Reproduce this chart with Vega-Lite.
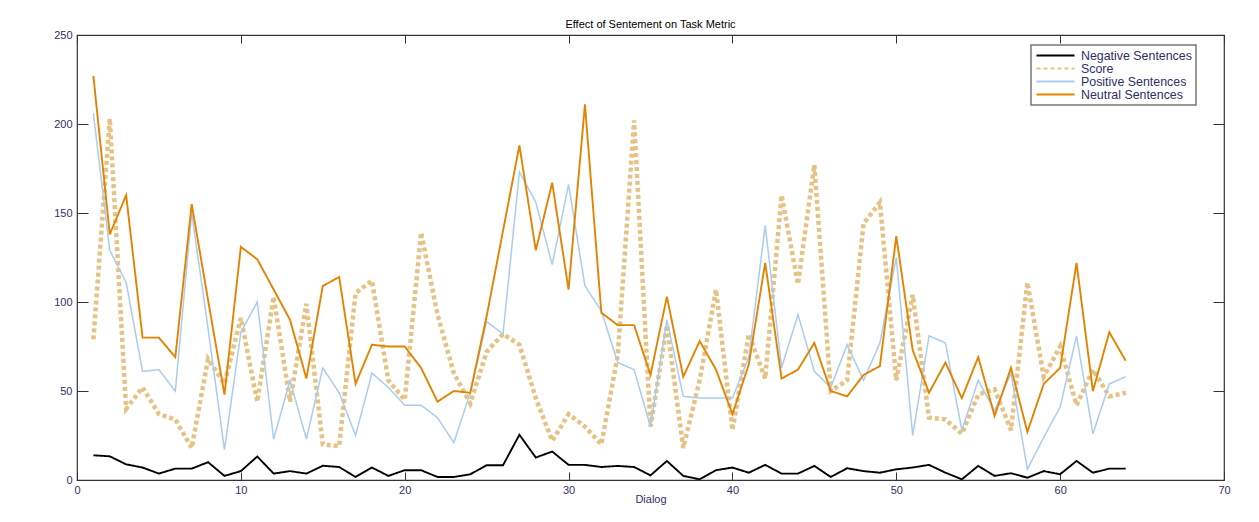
{
  "$schema": "https://vega.github.io/schema/vega-lite/v6.json",
  "width": 1147,
  "height": 445,
  "autosize": {"type": "none"},
  "padding": {"left": 77, "top": 35, "right": 35, "bottom": 42},
  "background": "white",
  "title": {"text": "Effect of Sentement on Task Metric", "fontSize": 11, "fontWeight": "normal", "font": "Liberation Sans", "color": "#000000", "offset": -1},
  "data": {"values": [
    {"Dialog": 1, "Negative Sentences": 13.9, "Score": 79, "Positive Sentences": 206, "Neutral Sentences": 227},
    {"Dialog": 2, "Negative Sentences": 13.3, "Score": 203, "Positive Sentences": 129, "Neutral Sentences": 138},
    {"Dialog": 3, "Negative Sentences": 8.8, "Score": 40, "Positive Sentences": 111, "Neutral Sentences": 160},
    {"Dialog": 4, "Negative Sentences": 7, "Score": 52, "Positive Sentences": 61, "Neutral Sentences": 80},
    {"Dialog": 5, "Negative Sentences": 3.6, "Score": 37, "Positive Sentences": 62, "Neutral Sentences": 80},
    {"Dialog": 6, "Negative Sentences": 6.4, "Score": 34, "Positive Sentences": 50, "Neutral Sentences": 69},
    {"Dialog": 7, "Negative Sentences": 6.4, "Score": 18, "Positive Sentences": 150, "Neutral Sentences": 155},
    {"Dialog": 8, "Negative Sentences": 10, "Score": 68, "Positive Sentences": 85, "Neutral Sentences": 101},
    {"Dialog": 9, "Negative Sentences": 2.3, "Score": 54, "Positive Sentences": 17, "Neutral Sentences": 48},
    {"Dialog": 10, "Negative Sentences": 5, "Score": 91, "Positive Sentences": 83, "Neutral Sentences": 131},
    {"Dialog": 11, "Negative Sentences": 13.2, "Score": 44, "Positive Sentences": 100, "Neutral Sentences": 124},
    {"Dialog": 12, "Negative Sentences": 3.6, "Score": 103, "Positive Sentences": 23, "Neutral Sentences": 107},
    {"Dialog": 13, "Negative Sentences": 5, "Score": 44, "Positive Sentences": 56, "Neutral Sentences": 90},
    {"Dialog": 14, "Negative Sentences": 3.6, "Score": 99, "Positive Sentences": 23, "Neutral Sentences": 57},
    {"Dialog": 15, "Negative Sentences": 8, "Score": 20, "Positive Sentences": 63, "Neutral Sentences": 109},
    {"Dialog": 16, "Negative Sentences": 7.3, "Score": 19, "Positive Sentences": 49, "Neutral Sentences": 114},
    {"Dialog": 17, "Negative Sentences": 1.7, "Score": 105, "Positive Sentences": 25, "Neutral Sentences": 54},
    {"Dialog": 18, "Negative Sentences": 7, "Score": 112, "Positive Sentences": 60, "Neutral Sentences": 76},
    {"Dialog": 19, "Negative Sentences": 2.3, "Score": 56, "Positive Sentences": 52, "Neutral Sentences": 75},
    {"Dialog": 20, "Negative Sentences": 5.5, "Score": 45, "Positive Sentences": 42, "Neutral Sentences": 75},
    {"Dialog": 21, "Negative Sentences": 5.5, "Score": 139, "Positive Sentences": 42, "Neutral Sentences": 63},
    {"Dialog": 22, "Negative Sentences": 1.7, "Score": 93, "Positive Sentences": 35, "Neutral Sentences": 44},
    {"Dialog": 23, "Negative Sentences": 1.7, "Score": 60, "Positive Sentences": 21, "Neutral Sentences": 50},
    {"Dialog": 24, "Negative Sentences": 3.2, "Score": 43, "Positive Sentences": 49, "Neutral Sentences": 49},
    {"Dialog": 25, "Negative Sentences": 8.3, "Score": 72, "Positive Sentences": 89, "Neutral Sentences": 92},
    {"Dialog": 26, "Negative Sentences": 8.3, "Score": 82, "Positive Sentences": 82, "Neutral Sentences": 140},
    {"Dialog": 27, "Negative Sentences": 25.4, "Score": 76, "Positive Sentences": 173, "Neutral Sentences": 188},
    {"Dialog": 28, "Negative Sentences": 12.6, "Score": 46, "Positive Sentences": 156, "Neutral Sentences": 129},
    {"Dialog": 29, "Negative Sentences": 16, "Score": 22, "Positive Sentences": 121, "Neutral Sentences": 167},
    {"Dialog": 30, "Negative Sentences": 8.5, "Score": 37, "Positive Sentences": 166, "Neutral Sentences": 107},
    {"Dialog": 31, "Negative Sentences": 8.5, "Score": 30, "Positive Sentences": 109, "Neutral Sentences": 211},
    {"Dialog": 32, "Negative Sentences": 7.3, "Score": 20, "Positive Sentences": 95, "Neutral Sentences": 94},
    {"Dialog": 33, "Negative Sentences": 7.9, "Score": 70, "Positive Sentences": 66, "Neutral Sentences": 87},
    {"Dialog": 34, "Negative Sentences": 7.3, "Score": 202, "Positive Sentences": 62, "Neutral Sentences": 87},
    {"Dialog": 35, "Negative Sentences": 2.6, "Score": 30, "Positive Sentences": 30, "Neutral Sentences": 59},
    {"Dialog": 36, "Negative Sentences": 10.7, "Score": 87, "Positive Sentences": 90, "Neutral Sentences": 103},
    {"Dialog": 37, "Negative Sentences": 2.3, "Score": 18, "Positive Sentences": 47, "Neutral Sentences": 58},
    {"Dialog": 38, "Negative Sentences": 0.4, "Score": 56, "Positive Sentences": 46, "Neutral Sentences": 78},
    {"Dialog": 39, "Negative Sentences": 5.5, "Score": 107, "Positive Sentences": 46, "Neutral Sentences": 62},
    {"Dialog": 40, "Negative Sentences": 7, "Score": 28, "Positive Sentences": 46, "Neutral Sentences": 37},
    {"Dialog": 41, "Negative Sentences": 4.1, "Score": 82, "Positive Sentences": 69, "Neutral Sentences": 65},
    {"Dialog": 42, "Negative Sentences": 8.5, "Score": 57, "Positive Sentences": 143, "Neutral Sentences": 122},
    {"Dialog": 43, "Negative Sentences": 3.6, "Score": 160, "Positive Sentences": 63, "Neutral Sentences": 57},
    {"Dialog": 44, "Negative Sentences": 3.6, "Score": 110, "Positive Sentences": 93, "Neutral Sentences": 62},
    {"Dialog": 45, "Negative Sentences": 7.9, "Score": 177, "Positive Sentences": 61, "Neutral Sentences": 77},
    {"Dialog": 46, "Negative Sentences": 1.7, "Score": 50, "Positive Sentences": 52, "Neutral Sentences": 50},
    {"Dialog": 47, "Negative Sentences": 6.6, "Score": 56, "Positive Sentences": 76, "Neutral Sentences": 47},
    {"Dialog": 48, "Negative Sentences": 5, "Score": 144, "Positive Sentences": 56, "Neutral Sentences": 59},
    {"Dialog": 49, "Negative Sentences": 4.1, "Score": 156, "Positive Sentences": 77, "Neutral Sentences": 64},
    {"Dialog": 50, "Negative Sentences": 6, "Score": 56, "Positive Sentences": 125, "Neutral Sentences": 137},
    {"Dialog": 51, "Negative Sentences": 7, "Score": 104, "Positive Sentences": 25, "Neutral Sentences": 73},
    {"Dialog": 52, "Negative Sentences": 8.5, "Score": 35, "Positive Sentences": 81, "Neutral Sentences": 49},
    {"Dialog": 53, "Negative Sentences": 4.1, "Score": 34, "Positive Sentences": 77, "Neutral Sentences": 66},
    {"Dialog": 54, "Negative Sentences": 0.4, "Score": 26, "Positive Sentences": 28, "Neutral Sentences": 46},
    {"Dialog": 55, "Negative Sentences": 7.9, "Score": 48, "Positive Sentences": 56, "Neutral Sentences": 69},
    {"Dialog": 56, "Negative Sentences": 2.3, "Score": 51, "Positive Sentences": 39, "Neutral Sentences": 36},
    {"Dialog": 57, "Negative Sentences": 3.8, "Score": 28, "Positive Sentences": 60, "Neutral Sentences": 63},
    {"Dialog": 58, "Negative Sentences": 1.3, "Score": 111, "Positive Sentences": 6, "Neutral Sentences": 27},
    {"Dialog": 59, "Negative Sentences": 5, "Score": 58, "Positive Sentences": 24, "Neutral Sentences": 54},
    {"Dialog": 60, "Negative Sentences": 3.2, "Score": 75, "Positive Sentences": 41, "Neutral Sentences": 63},
    {"Dialog": 61, "Negative Sentences": 10.7, "Score": 42, "Positive Sentences": 81, "Neutral Sentences": 122},
    {"Dialog": 62, "Negative Sentences": 4.1, "Score": 62, "Positive Sentences": 26, "Neutral Sentences": 50},
    {"Dialog": 63, "Negative Sentences": 6.4, "Score": 47, "Positive Sentences": 54, "Neutral Sentences": 83},
    {"Dialog": 64, "Negative Sentences": 6.4, "Score": 49, "Positive Sentences": 58, "Neutral Sentences": 67}
  ]},
  "transform": [
    {"fold": ["Negative Sentences", "Score", "Positive Sentences", "Neutral Sentences"], "as": ["series", "value"]}
  ],
  "layer": [
    {
      "mark": {"type": "line", "clip": true},
      "encoding": {
        "x": {"field": "Dialog", "type": "quantitative",
          "scale": {"domain": [0, 70], "nice": false, "zero": true},
          "axis": {"orient": "bottom", "values": [0, 10, 20, 30, 40, 50, 60, 70], "title": "Dialog", "tickSize": -8, "labelPadding": 12, "titlePadding": -2, "domain": false, "grid": false}},
        "y": {"field": "value", "type": "quantitative",
          "scale": {"domain": [0, 250], "nice": false},
          "axis": {"orient": "left", "values": [0, 50, 100, 150, 200, 250], "title": null, "tickSize": -11, "labelPadding": 16, "domain": false, "grid": false}},
        "color": {"field": "series", "type": "nominal",
          "scale": {"domain": ["Negative Sentences", "Score", "Positive Sentences", "Neutral Sentences"], "range": ["#000000", "#e6c284", "#a9ccf0", "#e38300"]},
          "legend": {"title": null}},
        "strokeDash": {"field": "series", "type": "nominal",
          "scale": {"domain": ["Negative Sentences", "Score", "Positive Sentences", "Neutral Sentences"], "range": [[1, 0], [4, 3], [1, 0], [1, 0]]},
          "legend": {"title": null}},
        "strokeWidth": {
          "condition": [
            {"test": "datum.series === 'Score'", "value": 4.5},
            {"test": "datum.series === 'Positive Sentences'", "value": 1.5}
          ],
          "value": 1.9}
      }
    },
    {
      "mark": {"type": "line", "opacity": 0},
      "encoding": {
        "x": {"field": "Dialog", "type": "quantitative",
          "axis": {"orient": "top", "values": [0, 10, 20, 30, 40, 50, 60, 70], "title": null, "labels": false, "tickSize": -8, "domain": false, "grid": false}},
        "y": {"field": "value", "type": "quantitative",
          "axis": {"orient": "right", "values": [0, 50, 100, 150, 200, 250], "title": null, "labels": false, "tickSize": -11, "domain": false, "grid": false}},
        "detail": {"field": "series", "type": "nominal"}
      }
    }
  ],
  "config": {
    "view": {"stroke": "#333333", "strokeWidth": 1.2, "fill": "white"},
    "axis": {"labelFont": "Liberation Sans", "labelFontSize": 11, "labelColor": "#2f2f66", "tickColor": "#333333", "tickWidth": 1, "titleFont": "Liberation Sans", "titleFontSize": 11, "titleFontWeight": "normal", "titleColor": "#2f2f66", "labelFlush": false},
    "legend": {"orient": "none", "legendX": 954, "legendY": 10, "symbolType": "M-1,0H6.6", "symbolSize": 100, "symbolStrokeWidth": 2.2, "labelFont": "Liberation Sans", "labelFontSize": 12.4, "labelColor": "#2f2f66", "fillColor": "white", "strokeColor": "#777777", "strokeWidth": 1.5, "padding": 4, "rowPadding": 0, "labelOffset": 33, "cornerRadius": 0}
  }
}
